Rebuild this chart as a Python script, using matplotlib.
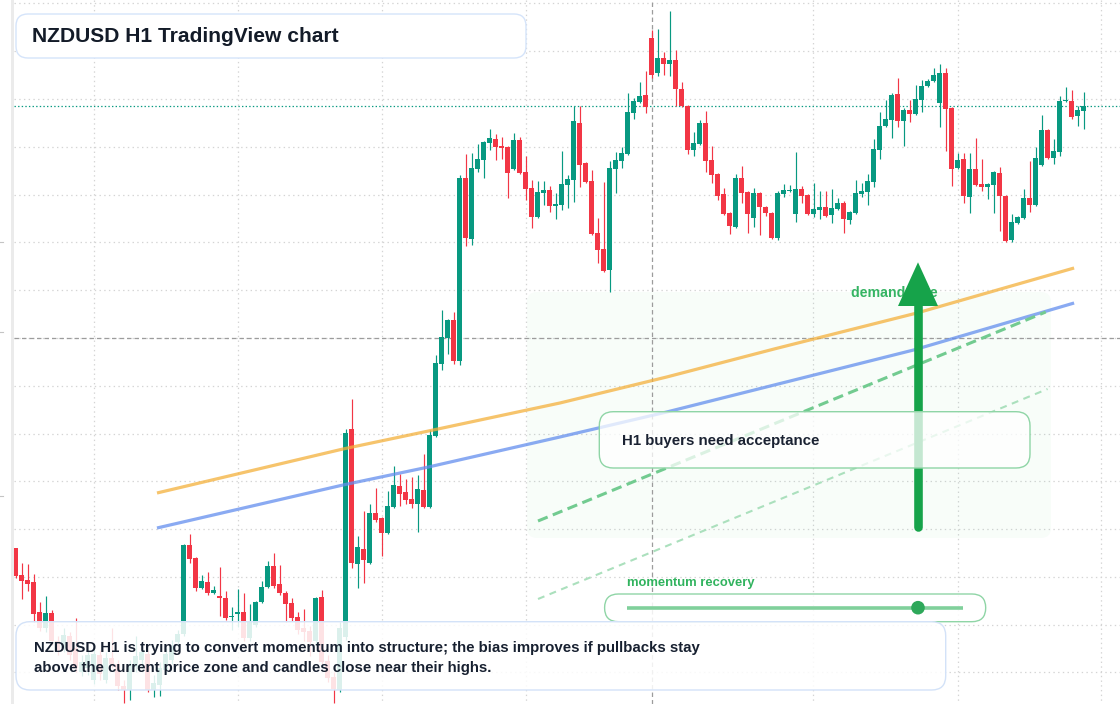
import numpy as np
import matplotlib
matplotlib.use("Agg")
import matplotlib.pyplot as plt
from matplotlib.patches import FancyBboxPatch, Polygon, Circle, Rectangle

plt.rcParams['font.family'] = ['Liberation Sans', 'DejaVu Sans']
plt.rcParams['lines.scale_dashes'] = False

# ---------------- DATA (NZDUSD H1, prices in points: 1 point = 0.00001) -------------
open_pts = [58790, 58763, 58758, 58756, 58726, 58710, 58725, 58697, 58690, 58702,
            58690, 58666, 58670, 58658, 58683, 58658, 58680, 58674, 58652, 58648,
            58671, 58678, 58684, 58648, 58653, 58668, 58678, 58696, 58704, 58793,
            58780, 58750, 58756, 58745, 58742, 58740, 58721, 58724, 58726, 58700,
            58713, 58736, 58751, 58772, 58754, 58745, 58735, 58721, 58710, 58707,
            58697, 58741, 58677, 58661, 58648, 58701, 58909, 58774, 58789, 58775,
            58825, 58820, 58805, 58831, 58852, 58846, 58839, 58834, 58848, 58831,
            58902, 58974, 59000, 59018, 58977, 59160, 59099, 59169, 59178, 59195,
            59199, 59192, 59191, 59169, 59198, 59166, 59150, 59121, 59145, 59148,
            59132, 59133, 59153, 59158, 59215, 59175, 59157, 59105, 59089, 59068,
            59169, 59177, 59184, 59225, 59236, 59243, 59300, 59265, 59280, 59274,
            59278, 59249, 59232, 59188, 59194, 59215, 59178, 59164, 59144, 59125,
            59111, 59160, 59146, 59120, 59145, 59131, 59125, 59100, 59144, 59147,
            59124, 59149, 59143, 59124, 59128, 59131, 59123, 59129, 59135, 59118,
            59125, 59144, 59146, 59156, 59188, 59212, 59218, 59244, 59217, 59228,
            59224, 59238, 59252, 59257, 59235, 59265, 59230, 59170, 59179, 59141,
            59169, 59154, 59151, 59153, 59165, 59142, 59098, 59115, 59120, 59140,
            59133, 59173, 59208, 59180, 59186, 59237, 59237, 59222, 59227]
high_pts = [58790, 58775, 58774, 58764, 58736, 58742, 58728, 58702, 58710, 58706,
            58720, 58683, 58688, 58690, 58688, 58686, 58710, 58678, 58658, 58678,
            58702, 58693, 58688, 58663, 58676, 58690, 58698, 58708, 58794, 58804,
            58781, 58763, 58766, 58752, 58771, 58747, 58731, 58749, 58745, 58734,
            58737, 58757, 58777, 58785, 58773, 58747, 58740, 58726, 58729, 58712,
            58741, 58748, 58683, 58666, 58716, 58909, 58939, 58802, 58827, 58834,
            58850, 58821, 58847, 58872, 58864, 58859, 58861, 58863, 58884, 58908,
            58983, 59028, 59019, 59026, 59163, 59184, 59185, 59194, 59197, 59209,
            59204, 59201, 59192, 59205, 59201, 59182, 59158, 59157, 59157, 59152,
            59145, 59187, 59163, 59232, 59232, 59176, 59168, 59120, 59156, 59177,
            59186, 59191, 59245, 59240, 59256, 59267, 59308, 59309, 59286, 59327,
            59288, 59256, 59233, 59206, 59218, 59227, 59192, 59165, 59150, 59126,
            59164, 59172, 59147, 59150, 59146, 59132, 59126, 59147, 59154, 59153,
            59186, 59152, 59144, 59155, 59147, 59147, 59149, 59140, 59137, 59127,
            59158, 59155, 59164, 59199, 59226, 59238, 59245, 59260, 59230, 59238,
            59253, 59258, 59259, 59270, 59274, 59270, 59231, 59185, 59185, 59185,
            59200, 59179, 59155, 59167, 59171, 59143, 59124, 59122, 59149, 59177,
            59191, 59223, 59209, 59199, 59242, 59251, 59248, 59232, 59246]
low_pts = [58760, 58739, 58747, 58716, 58707, 58706, 58693, 58683, 58686, 58678,
           58666, 58662, 58663, 58654, 58658, 58655, 58670, 58648, 58635, 58638,
           58666, 58670, 58646, 58641, 58642, 58664, 58674, 58692, 58702, 58775,
           58747, 58749, 58743, 58744, 58722, 58718, 58708, 58711, 58697, 58697,
           58711, 58735, 58750, 58750, 58743, 58716, 58717, 58704, 58697, 58682,
           58693, 58674, 58656, 58635, 58646, 58698, 58770, 58750, 58755, 58774,
           58816, 58782, 58804, 58830, 58832, 58834, 58830, 58806, 58830, 58830,
           58901, 58968, 58984, 58974, 58973, 59092, 59093, 59166, 59160, 59188,
           59178, 59179, 59140, 59168, 59164, 59138, 59110, 59120, 59133, 59126,
           59119, 59128, 59130, 59136, 59151, 59155, 59103, 59075, 59066, 59046,
           59145, 59170, 59183, 59219, 59235, 59225, 59260, 59262, 59263, 59262,
           59232, 59231, 59184, 59182, 59193, 59166, 59155, 59138, 59123, 59104,
           59110, 59135, 59105, 59111, 59103, 59122, 59099, 59098, 59141, 59146,
           59116, 59135, 59123, 59121, 59119, 59121, 59115, 59128, 59105, 59114,
           59124, 59141, 59133, 59151, 59179, 59211, 59200, 59211, 59192, 59216,
           59223, 59226, 59251, 59256, 59211, 59187, 59152, 59169, 59135, 59125,
           59152, 59147, 59139, 59125, 59107, 59096, 59096, 59114, 59119, 59126,
           59132, 59172, 59179, 59174, 59182, 59236, 59219, 59212, 59209]
close_pts = [58762, 58757, 58754, 58724, 58710, 58725, 58697, 58688, 58703, 58683,
             58670, 58676, 58683, 58684, 58664, 58680, 58674, 58652, 58648, 58674,
             58682, 58686, 58648, 58655, 58670, 58684, 58692, 58704, 58793, 58779,
             58750, 58757, 58745, 58748, 58740, 58720, 58722, 58726, 58700, 58716,
             58736, 58751, 58772, 58752, 58745, 58734, 58720, 58708, 58706, 58696,
             58740, 58676, 58660, 58649, 58710, 58905, 58775, 58791, 58778, 58825,
             58818, 58805, 58832, 58853, 58844, 58838, 58834, 58849, 58831, 58903,
             58975, 59001, 59018, 58977, 59160, 59100, 59170, 59179, 59196, 59200,
             59191, 59190, 59165, 59198, 59165, 59149, 59121, 59146, 59148, 59132,
             59134, 59154, 59159, 59217, 59173, 59156, 59104, 59088, 59067, 59170,
             59178, 59185, 59226, 59237, 59242, 59231, 59263, 59280, 59274, 59278,
             59249, 59232, 59188, 59195, 59215, 59177, 59163, 59142, 59124, 59112,
             59160, 59145, 59124, 59145, 59131, 59125, 59100, 59145, 59148, 59148,
             59149, 59142, 59124, 59129, 59131, 59122, 59130, 59135, 59119, 59126,
             59145, 59147, 59157, 59189, 59212, 59219, 59243, 59217, 59228, 59224,
             59239, 59252, 59257, 59263, 59265, 59229, 59169, 59178, 59142, 59169,
             59153, 59151, 59154, 59166, 59142, 59097, 59116, 59121, 59140, 59133,
             59180, 59208, 59180, 59187, 59237, 59238, 59221, 59228, 59232]

# Overlay lines (candle index, price in points)
orange_idx = [23.55, 54.55, 68.8, 90.7, 108.5, 126.4, 150.2, 176.4]
orange_pts = [58845, 58889, 58907, 58935, 58961, 58989, 59025, 59070]
blue_idx = [23.55, 54.55, 68.8, 90.7, 108.5, 149.65, 176.4]
blue_pts = [58810, 58853, 58871, 58901, 58926, 58988, 59035]
path_idx = [87.05, 171.67]
path_pts = [58817, 59026]
path2_idx = [87.05, 171.97]
path2_pts = [58739, 58949]
cross_idx = 106
cross_price = 0.59000

title = "NZDUSD H1 TradingView chart"
note_lines = ["NZDUSD H1 is trying to convert momentum into structure; the bias improves if pullbacks stay",
              "above the current price zone and candles close near their highs."]
box_label = "H1 buyers need acceptance"
zone_label = "demand side"
meter_label = "momentum recovery"

# ---------------- FIGURE ----------------
PT = 1e-5
o = np.array(open_pts) * PT
h = np.array(high_pts) * PT
l = np.array(low_pts) * PT
c = np.array(close_pts) * PT
idx = np.arange(len(o))
last_price = c[-1]

W, H = 1120, 704
fig = plt.figure(figsize=(W / 100, H / 100), dpi=100)
fig.patch.set_facecolor('white')
ax = fig.add_axes([0, 0, 1, 1])
ax.set_xlim(-15.7 / 6, (W - 15.7) / 6)
ax.set_ylim(0.58634, 0.59338)
ax.axis('off')
pax = fig.add_axes([0, 0, 1, 1])
pax.set_xlim(0, W)
pax.set_ylim(H, 0)
pax.set_visible(False)
P = pax.transData

GRID = '#d4d4d4'
for k in range(15):
    y = 3.3 + 47.8 * k
    ax.plot([14, W], [y, y], transform=P, color=GRID, lw=0.9, ls=(0, (1, 2.4)), zorder=0.5)
for x in [93.6, 237.5, 381.8, 525.7, 813.2, 957.5, 1101.4]:
    ax.plot([x, x], [0, H], transform=P, color=GRID, lw=0.9, ls=(0, (1, 2.4)), zorder=0.5)

# demand zone background
ax.add_patch(FancyBboxPatch((527, 292), 524, 246, boxstyle='round,pad=0,rounding_size=10',
                            transform=P, facecolor='#22c55e', alpha=0.03, lw=0, zorder=1))

# crosshair + price line
ax.axvline(cross_idx, color='#9c9c9c', lw=0.9, ls=(0, (3.2, 2.2)), zorder=1.5)
ax.axhline(cross_price, xmin=14 / W, color='#9c9c9c', lw=0.9, ls=(0, (3.2, 2.2)), zorder=1.5)
ax.axhline(last_price, xmin=14 / W, color='#089981', lw=0.9, ls=(0, (1, 1.6)), zorder=1.6)

# candles
up = c >= o
cols = np.where(up, '#089981', '#f23645')
ax.vlines(idx, l, h, colors=cols, lw=0.85, zorder=2)
body_lo = np.minimum(o, c)
body_h = np.maximum(np.abs(c - o), 1.3 * PT)
ax.bar(idx, body_h, bottom=body_lo, width=0.8, color=cols, lw=0, zorder=2.1)

# moving lines
ax.plot(orange_idx, np.array(orange_pts) * PT, color='#f4b03b', alpha=0.75, lw=2.3,
        solid_capstyle='butt', solid_joinstyle='round', zorder=3)
ax.plot(blue_idx, np.array(blue_pts) * PT, color='#638eee', alpha=0.75, lw=2.3,
        solid_capstyle='butt', solid_joinstyle='round', zorder=3)
ax.plot(path_idx, np.array(path_pts) * PT, color='#72cb90', lw=2.2, ls=(0, (7.5, 4)),
        zorder=3.5)
ax.plot(path2_idx, np.array(path2_pts) * PT, color='#abe0bd', lw=1.5, ls=(0, (5, 4)),
        zorder=3.5)

# demand label and arrow
ax.text(851, 293.3, zone_label, transform=P, fontsize=10.2, fontweight='bold',
        color='#35b463', va='center', ha='left', zorder=4)
ax.plot([918, 918], [527.4, 306], transform=P, color='#16a34a', lw=6.2,
        solid_capstyle='round', zorder=4.5)
ax.add_patch(Polygon([[898, 306], [938, 306], [918, 262.3]], closed=True, transform=P,
                     facecolor='#16a34a', lw=0, zorder=4.5))

# H1 box
ax.add_patch(FancyBboxPatch((599.3, 411.7), 430.7, 56.3, boxstyle='round,pad=0,rounding_size=14',
                            transform=P, facecolor=(1, 1, 1, 0.75), edgecolor='#8fd5a6',
                            lw=1.0, zorder=5))
ax.text(622, 441.5, box_label, transform=P, fontsize=10.8, fontweight='bold',
        color='#1a2232', va='center', ha='left', zorder=5.1)

# momentum meter
ax.text(627, 582.7, meter_label, transform=P, fontsize=9.35, fontweight='bold',
        color='#31b35e', va='center', ha='left', zorder=5.1)
ax.add_patch(FancyBboxPatch((604.6, 594), 381.1, 27.7, boxstyle='round,pad=0,rounding_size=13.8',
                            transform=P, facecolor=(1, 1, 1, 0.85), edgecolor='#8fd5a6',
                            lw=1.0, zorder=5))
ax.plot([627, 963], [607.7, 607.7], transform=P, color='#80d09b', lw=2.6,
        solid_capstyle='butt', zorder=5.1)
ax.add_patch(Circle((918, 607.7), 6.8, transform=P, facecolor='#2ea85a', lw=0, zorder=5.2))

# bottom note
ax.add_patch(FancyBboxPatch((16, 621.7), 929.7, 68.3, boxstyle='round,pad=0,rounding_size=14',
                            transform=P, facecolor=(1, 1, 1, 0.86), edgecolor='#d3e2f8',
                            lw=1.0, zorder=6))
for k, line in enumerate(note_lines):
    ax.text(34, 647.7 + 20 * k, line, transform=P, fontsize=10.85, fontweight='bold',
            color='#172030', va='center', ha='left', zorder=6.1)

# title
ax.add_patch(FancyBboxPatch((16, 14), 510, 44, boxstyle='round,pad=0,rounding_size=12',
                            transform=P, facecolor='white', edgecolor='#d5e4fa',
                            lw=1.0, zorder=6))
ax.text(32, 36, title, transform=P, fontsize=15.1, fontweight='bold',
        color='#131b28', va='center', ha='left', zorder=6.1)

# left strip
ax.add_patch(Rectangle((10.5, 0), 3.3, H, transform=P, facecolor='#ebebeb', lw=0, zorder=7))
for y in [242.3, 331.7, 495.7]:
    ax.plot([0, 3], [y, y], transform=P, color='#c4c4c4', lw=0.8, zorder=7)

fig.savefig('out.png', dpi=100, facecolor='white')
